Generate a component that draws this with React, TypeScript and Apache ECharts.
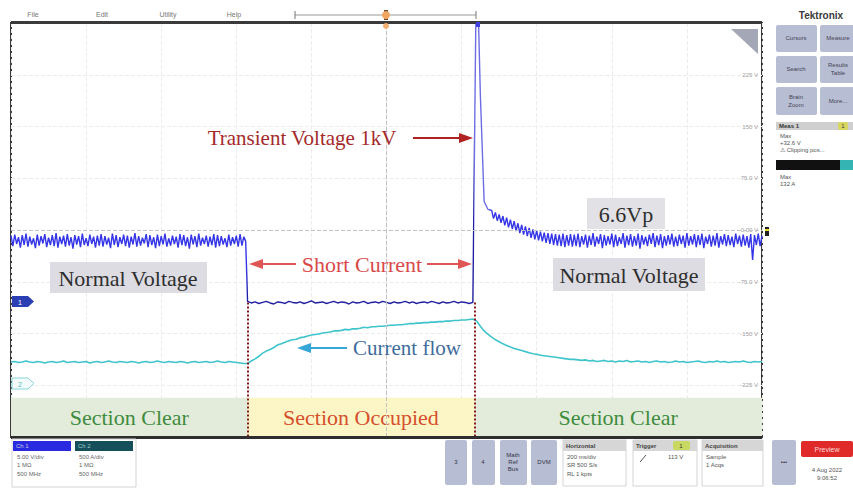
import React, { useEffect, useRef } from 'react';
import * as echarts from 'echarts';

// ---------- data (screen divisions) ----------
const SEGMENT_START_MS = [-1000, -370, 240, 280];
const VOLT_STEP_MS = [5, 10, 10, 5];
const CUR_STEP_MS = [10, 10, 10, 10];

const VOLT_NORMAL_BEFORE = [
  -0.11, -0.31, -0.09, -0.27, -0.14, -0.34, -0.10, -0.29, -0.07, -0.32,
  -0.13, -0.28, -0.16, -0.35, -0.09, -0.30, -0.12, -0.26, -0.08, -0.33,
  -0.15, -0.29, -0.10, -0.31, -0.06, -0.34, -0.13, -0.27, -0.11, -0.32,
  -0.08, -0.30, -0.14, -0.36, -0.10, -0.28, -0.12, -0.33, -0.07, -0.29,
  -0.16, -0.31, -0.09, -0.27, -0.13, -0.34, -0.11, -0.30, -0.08, -0.32,
  -0.12, -0.28, -0.15, -0.35, -0.07, -0.29, -0.10, -0.33, -0.14, -0.27,
  -0.09, -0.31, -0.11, -0.34, -0.13, -0.28, -0.06, -0.32, -0.12, -0.30,
  -0.15, -0.26, -0.08, -0.33, -0.10, -0.29, -0.14, -0.35, -0.09, -0.31,
  -0.12, -0.28, -0.07, -0.32, -0.16, -0.30, -0.11, -0.27, -0.13, -0.34,
  -0.08, -0.29, -0.10, -0.31, -0.14, -0.36, -0.09, -0.28, -0.12, -0.33,
  -0.07, -0.30, -0.15, -0.27, -0.11, -0.32, -0.13, -0.29, -0.08, -0.34,
  -0.10, -0.31, -0.12, -0.28, -0.16, -0.33, -0.09, -0.30, -0.14, -0.27,
  -0.11, -0.32, -0.08, -0.30, -0.13, -0.22,
];
const VOLT_SHORT = [
  -1.38, -1.41, -1.39, -1.42, -1.40, -1.38, -1.41, -1.43, -1.39, -1.40,
  -1.42, -1.38, -1.40, -1.41, -1.39, -1.42, -1.40, -1.37, -1.41, -1.40,
  -1.39, -1.42, -1.40, -1.38, -1.41, -1.39, -1.40, -1.43, -1.39, -1.41,
  -1.40, -1.38, -1.42, -1.40, -1.39, -1.41, -1.38, -1.40, -1.42, -1.39,
  -1.41, -1.40, -1.38, -1.41, -1.39, -1.42, -1.40, -1.39, -1.41, -1.38,
  -1.40, -1.42, -1.39, -1.41, -1.40, -1.38, -1.41, -1.39, -1.40, -1.42,
  -1.40,
];
const VOLT_TRANSIENT = [5.5, 2.6, 0.55, 0.4];
const VOLT_NORMAL_AFTER = [
  0.38, 0.22, 0.34, 0.18, 0.30, 0.14, 0.27, 0.09, 0.24, 0.05,
  0.20, 0.02, 0.17, -0.02, 0.13, -0.06, 0.10, -0.09, 0.07, -0.12,
  0.04, -0.15, 0.01, -0.18, -0.01, -0.20, -0.03, -0.22, -0.05, -0.25,
  -0.06, -0.27, -0.07, -0.29, -0.08, -0.30, -0.09, -0.31, -0.07, -0.33,
  -0.10, -0.30, -0.08, -0.32, -0.09,
  -0.31, -0.07, -0.33, -0.12, -0.28, -0.09, -0.34, -0.11, -0.29, -0.06,
  -0.32, -0.13, -0.27, -0.08, -0.35, -0.10, -0.30, -0.12, -0.28, -0.07,
  -0.33, -0.09, -0.31, -0.14, -0.27, -0.06, -0.34, -0.11, -0.29, -0.08,
  -0.32, -0.12, -0.30, -0.07, -0.36, -0.10, -0.28, -0.13, -0.31, -0.09,
  -0.27, -0.06, -0.33, -0.11, -0.29, -0.08, -0.35, -0.12, -0.30, -0.10,
  -0.28, -0.07, -0.32, -0.13, -0.31, -0.09, -0.27, -0.11, -0.34, -0.06,
  -0.30, -0.12, -0.28, -0.08, -0.33, -0.10, -0.29, -0.07, -0.35, -0.13,
  -0.27, -0.09, -0.32, -0.11, -0.30, -0.06, -0.34, -0.12, -0.28, -0.08,
  -0.31, -0.10, -0.29, -0.13, -0.33, -0.07, -0.27, -0.11, -0.32, -0.09,
  -0.30, -0.12, -0.34, -0.08, -0.58, -0.10, -0.29, -0.07, -0.31, -0.11,
];

const CUR_NORMAL_BEFORE = [
  -2.55, -2.54, -2.56, -2.55, -2.53, -2.55, -2.56, -2.54, -2.55, -2.57,
  -2.55, -2.54, -2.56, -2.55, -2.53, -2.56, -2.55, -2.54, -2.56, -2.55,
  -2.54, -2.57, -2.55, -2.54, -2.56, -2.55, -2.53, -2.55, -2.56, -2.54,
  -2.55, -2.56, -2.54, -2.55, -2.57, -2.55, -2.54, -2.56, -2.55, -2.53,
  -2.55, -2.56, -2.54, -2.55, -2.56, -2.54, -2.55, -2.57, -2.55, -2.54,
  -2.56, -2.55, -2.54, -2.56, -2.55, -2.53, -2.55, -2.56, -2.54, -2.55,
  -2.56, -2.57, -2.58,
];
const CUR_SHORT = [
  -2.58, -2.53, -2.49, -2.44, -2.38, -2.34, -2.31, -2.27, -2.22, -2.20,
  -2.17, -2.14, -2.12, -2.11, -2.08, -2.07, -2.05, -2.03, -2.02, -2.01,
  -1.99, -1.98, -1.97, -1.95, -1.95, -1.94, -1.92, -1.93, -1.91, -1.91,
  -1.90, -1.88, -1.89, -1.87, -1.87, -1.86, -1.86, -1.85, -1.84, -1.84,
  -1.83, -1.83, -1.82, -1.81, -1.81, -1.80, -1.80, -1.79, -1.79, -1.78,
  -1.78, -1.77, -1.77, -1.76, -1.76, -1.75, -1.75, -1.74, -1.74, -1.73,
  -1.72,
];
const CUR_TRANSIENT = [-1.76, -1.86, -1.95, -2.01];
const CUR_NORMAL_AFTER = [
  -2.07, -2.12, -2.16, -2.20, -2.23, -2.26, -2.29, -2.31, -2.33, -2.35,
  -2.37, -2.39, -2.40, -2.42, -2.43, -2.44, -2.45, -2.46, -2.47, -2.48,
  -2.49, -2.50, -2.50,
  -2.51, -2.52, -2.51, -2.53, -2.52, -2.54, -2.53, -2.52, -2.54, -2.53,
  -2.55, -2.53, -2.54, -2.52, -2.55, -2.54, -2.53, -2.55, -2.54, -2.56,
  -2.54, -2.53, -2.55, -2.54, -2.56, -2.55, -2.53, -2.55, -2.54, -2.56,
  -2.55, -2.54, -2.53, -2.55, -2.56, -2.54, -2.55, -2.53, -2.55, -2.54,
  -2.56, -2.55, -2.54, -2.55, -2.53, -2.55, -2.56, -2.54, -2.55, -2.54,
];

const Y_TICKS = [3, 2, 1, 0, -1, -2, -3];
const Y_TICK_LABELS = ['225 V', '150 V', '75.0 V', '0.00 V', '-75.0 V', '-150 V', '-225 V'];

const SECTION_EDGES_MS = [-1000, -370, 234, 1000];
const SECTION_LABELS = ['Section Clear', 'Section Occupied', 'Section Clear'];
const SECTION_BAND_DIV = [-4, -3.24];
const CH1_LEVEL_DIV = -1.4;

// ---------- helpers ----------
function toPairs(segments: number[][], steps: number[]) {
  const out: [number, number][] = [];
  segments.forEach((seg, s) =>
    seg.forEach((v, i) => out.push([SEGMENT_START_MS[s] + i * steps[s], v]))
  );
  return out;
}

const SERIF = '"Liberation Serif", "Times New Roman", serif';
const SANS = '"Liberation Sans", Arial, sans-serif';

function txt(x: number, y: number, text: string, font: string, fill: string, align = 'left', extra: any = {}) {
  return {
    type: 'text', x, y, silent: true, z: 20,
    style: { text, font, fill, textAlign: align, align, textVerticalAlign: 'middle', verticalAlign: 'middle', ...extra },
  };
}
function rect(x: number, y: number, w: number, h: number, fill: string, extra: any = {}, r = 0) {
  return { type: 'rect', silent: true, z: 15, shape: { x, y, width: w, height: h, r }, style: { fill, ...extra } };
}
function line(x1: number, y1: number, x2: number, y2: number, stroke: string, lineWidth = 1, extra: any = {}) {
  return { type: 'line', silent: true, z: 18, shape: { x1, y1, x2, y2 }, style: { stroke, lineWidth, ...extra } };
}
function poly(points: number[][], fill: string, extra: any = {}) {
  return { type: 'polygon', silent: true, z: 19, shape: { points }, style: { fill, ...extra } };
}

const UI = '6px ' + SANS;
const UI7 = '7px ' + SANS;
const btnFill = '#b7bdd3';

const graphics: any[] = [
  // menu bar
  txt(33, 14, 'File', UI7, '#777', 'center'),
  txt(102, 14, 'Edit', UI7, '#777', 'center'),
  txt(168, 14, 'Utility', UI7, '#777', 'center'),
  txt(234, 14, 'Help', UI7, '#777', 'center'),
  line(295, 15, 476, 15, '#999', 1),
  line(295, 11, 295, 19, '#777', 1),
  line(476, 11, 476, 19, '#777', 1),
  { type: 'circle', silent: true, z: 19, shape: { cx: 386, cy: 15, r: 4 }, style: { fill: '#f0a860' } },
  rect(384, 10, 4, 10, '#6a4a30', {}),
  // plot frame accents
  rect(11, 21, 751, 3, '#3a3a3a'),
  rect(11, 436, 751, 3, '#2e2e2e'),
  poly([[731, 29], [758, 29], [758, 54]], '#a4a8b6'),
  { type: 'circle', silent: true, z: 19, shape: { cx: 386, cy: 26, r: 3 }, style: { fill: '#f2b070' } },
  rect(476, 22, 4, 5, '#4040e0'),
  rect(765, 227, 4, 9, '#222'),
  rect(765, 229, 4, 2, '#e8d830'),
  // channel tags
  poly([[12, 296], [28, 296], [34, 301.5], [28, 307], [12, 307]], '#2b3fb5'),
  txt(20, 302, '1', UI7, '#fff', 'center'),
  poly([[12, 378], [28, 378], [34, 383.5], [28, 389], [12, 389]], '#f3fbfc', { stroke: '#86d3da', lineWidth: 1 }),
  txt(20, 384, '2', UI7, '#5bb', 'center'),

  // annotations
  txt(302, 138, 'Transient Voltage 1kV', '21px ' + SERIF, '#a42a2a', 'center'),
  line(413, 138, 462, 138, '#b02222', 2),
  poly([[473, 138], [459, 133], [459, 143]], '#b02222'),

  txt(362, 264, 'Short Current', '22px ' + SERIF, '#d84a4a', 'center'),
  line(260, 264, 296, 264, '#e05656', 2),
  poly([[249, 264], [263, 259], [263, 269]], '#e05656'),
  line(427, 264, 462, 264, '#e05656', 2),
  poly([[472, 264], [458, 259], [458, 269]], '#e05656'),

  rect(50, 262, 157, 31, '#dcdce2'),
  txt(128, 278, 'Normal Voltage', '22px ' + SERIF, '#2e2e2e', 'center'),
  rect(553, 258, 152, 33, '#dcdce2'),
  txt(629, 275, 'Normal Voltage', '22px ' + SERIF, '#2e2e2e', 'center'),
  rect(587, 198, 78, 31, '#e2e2e6'),
  txt(626, 214, '6.6Vp', '22px ' + SERIF, '#2e2e2e', 'center'),

  txt(407, 348, 'Current flow', '21px ' + SERIF, '#3e6c9c', 'center'),
  line(308, 348, 347, 348, '#36a6d6', 2),
  poly([[297, 348], [311, 343], [311, 353]], '#36a6d6'),

  // right panel
  txt(821, 15, 'Tektronix', 'bold 10px ' + SANS, '#3a3a3a', 'center'),
  rect(776, 25, 41, 27, btnFill, {}, 2), txt(796, 38, 'Cursors', UI, '#445', 'center'),
  rect(820, 25, 40, 27, btnFill, {}, 2), txt(838, 38, 'Measure', UI, '#445', 'center'),
  rect(776, 56, 41, 27, btnFill, {}, 2), txt(796, 69, 'Search', UI, '#445', 'center'),
  rect(820, 56, 40, 27, btnFill, {}, 2), txt(838, 65, 'Results', UI, '#445', 'center'), txt(838, 73, 'Table', UI, '#445', 'center'),
  rect(776, 87, 41, 28, btnFill, {}, 2), txt(796, 97, 'Brain', UI, '#445', 'center'), txt(796, 105, 'Zoom', UI, '#445', 'center'),
  rect(820, 87, 40, 28, btnFill, {}, 2), txt(838, 101, 'More...', UI, '#445', 'center'),
  rect(776, 122, 77, 8, '#cfcfcf'),
  txt(779, 126, 'Meas 1', 'bold 6px ' + SANS, '#333'),
  rect(838, 122, 10, 8, '#d8d860', {}, 2), txt(843, 126, '1', UI, '#333', 'center'),
  txt(780, 136, 'Max', UI, '#555'),
  txt(780, 143, '+32.6 V', UI, '#555'),
  txt(780, 150, '\u26A0 Clipping pos...', UI, '#555'),
  rect(776, 160, 64, 10, '#111'),
  rect(840, 160, 13, 10, '#35b4b4'),
  txt(780, 177, 'Max', UI, '#555'),
  txt(780, 184, '132 A', UI, '#555'),

  // bottom panel: channels
  rect(12, 439, 124, 48, '#ffffff', { stroke: '#d4d4d4', lineWidth: 1 }),
  rect(13, 441, 58, 10, '#2a2ae0'), txt(16, 446, 'Ch 1', UI, '#ccd', 'left'),
  rect(75, 441, 58, 10, '#15505a'), txt(78, 446, 'Ch 2', UI, '#9cc', 'left'),
  txt(17, 457, '5.00 V/div', UI, '#666'), txt(17, 465, '1 M\u03A9', UI, '#666'), txt(17, 474, '500 MHz', UI, '#666'),
  txt(79, 457, '500 A/div', UI, '#666'), txt(79, 465, '1 M\u03A9', UI, '#666'), txt(79, 474, '500 MHz', UI, '#666'),

  // bottom panel: right
  rect(445, 440, 22, 45, btnFill, {}, 2), txt(456, 462, '3', UI, '#334', 'center'),
  rect(472, 440, 23, 45, btnFill, {}, 2), txt(483, 462, '4', UI, '#334', 'center'),
  rect(500, 440, 27, 45, btnFill, {}, 2),
  txt(513, 455, 'Math', UI, '#334', 'center'), txt(513, 462, 'Ref', UI, '#334', 'center'), txt(513, 469, 'Bus', UI, '#334', 'center'),
  rect(531, 440, 26, 45, btnFill, {}, 2), txt(544, 462, 'DVM', UI, '#334', 'center'),
  rect(563, 440, 63, 46, '#ffffff', { stroke: '#d4d4d4', lineWidth: 1 }),
  rect(563, 440, 63, 11, '#d6d6d6'), txt(566, 446, 'Horizontal', 'bold 6px ' + SANS, '#444'),
  txt(567, 457, '200 ms/div', UI, '#555'), txt(567, 465, 'SR 500 S/s', UI, '#555'), txt(567, 474, 'RL 1 kpts', UI, '#555'),
  rect(633, 440, 64, 46, '#ffffff', { stroke: '#d4d4d4', lineWidth: 1 }),
  rect(633, 440, 64, 11, '#d6d6d6'), txt(636, 446, 'Trigger', 'bold 6px ' + SANS, '#444'),
  rect(673, 441, 17, 9, '#c8d860', {}, 2), txt(681, 446, '1', UI, '#333', 'center'),
  line(640, 462, 646, 455, '#555', 1),
  txt(668, 457, '113 V', UI, '#555'),
  rect(702, 440, 61, 46, '#ffffff', { stroke: '#d4d4d4', lineWidth: 1 }),
  rect(702, 440, 61, 11, '#d6d6d6'), txt(705, 446, 'Acquisition', 'bold 6px ' + SANS, '#444'),
  txt(706, 457, 'Sample', UI, '#555'), txt(706, 465, '1 Acqs', UI, '#555'),
  rect(772, 440, 24, 45, btnFill, {}, 2), txt(784, 462, '\u2022\u2022\u2022', UI, '#334', 'center'),
  rect(801, 441, 52, 16, '#e02a2a', {}, 2), txt(827, 449, 'Preview', UI7, '#fbdada', 'center'),
  txt(827, 470, '4 Aug 2022', UI, '#555', 'center'),
  txt(827, 478, '9:06:52', UI, '#555', 'center'),
];

const option: any = {
  animation: false,
  backgroundColor: '#ffffff',
  grid: {
    left: 11, top: 23, width: 751, height: 414, show: true,
    borderColor: '#3a3a3a', borderWidth: 2, backgroundColor: '#ffffff', containLabel: false,
  },
  visualMap: {
    type: 'piecewise', show: false, dimension: 0, seriesIndex: 1,
    pieces: [
      { lt: -372, color: '#3535e8' },
      { gte: -372, lt: 232, color: '#1f1fa0' },
      { gte: 232, lt: 272, color: '#6c6ce4' },
      { gte: 272, color: '#3535e8' },
    ],
  },
  xAxis: {
    type: 'value', min: -1000, max: 1000, interval: 200,
    axisLine: { show: false }, axisTick: { show: false }, axisLabel: { show: false },
    splitLine: { show: true, lineStyle: { color: '#ececec', type: 'dashed', width: 1 } },
  },
  yAxis: {
    type: 'value', min: -4, max: 4, interval: 1, position: 'right',
    axisLine: { show: false }, axisTick: { show: false },
    axisLabel: {
      inside: true, margin: 4, fontSize: 6, color: '#a0a0a0', fontFamily: SANS,
      formatter: (v: number) => {
        const i = Y_TICKS.indexOf(v);
        return i >= 0 ? Y_TICK_LABELS[i] : '';
      },
    },
    splitLine: { show: true, lineStyle: { color: '#ececec', type: 'dashed', width: 1 } },
  },
  series: [
    {
      name: 'CH2 current', type: 'line', showSymbol: false, symbol: 'none', clip: true, z: 3,
      data: toPairs([CUR_NORMAL_BEFORE, CUR_SHORT, CUR_TRANSIENT, CUR_NORMAL_AFTER], CUR_STEP_MS),
      lineStyle: { color: '#3fc4cc', width: 1.6 },
      markLine: {
        silent: true, symbol: ['none', 'none'], label: { show: false },
        lineStyle: { color: '#c2c2c2', type: 'dashed', width: 1 },
        data: [{ xAxis: 0 }, { yAxis: 0 }],
      },
      markArea: {
        silent: true,
        data: SECTION_LABELS.map((name, i) => [
          {
            name,
            xAxis: SECTION_EDGES_MS[i], yAxis: SECTION_BAND_DIV[1],
            itemStyle: { color: i === 1 ? '#fcf6c6' : '#e3ebda' },
            label: {
              show: true, position: 'inside', fontFamily: SERIF, fontSize: 22,
              color: i === 1 ? '#d5502c' : '#3e8c3e',
            },
          },
          { xAxis: SECTION_EDGES_MS[i + 1], yAxis: SECTION_BAND_DIV[0] },
        ]),
      },
    },
    {
      name: 'CH1 voltage', type: 'line', showSymbol: false, symbol: 'none', clip: true, z: 4,
      data: toPairs([VOLT_NORMAL_BEFORE, VOLT_SHORT, VOLT_TRANSIENT, VOLT_NORMAL_AFTER], VOLT_STEP_MS),
      lineStyle: { width: 1.4 },
      markLine: {
        silent: true, symbol: ['none', 'none'], label: { show: false },
        lineStyle: { color: '#8b1a1a', type: 'dotted', width: 2 },
        data: [SECTION_EDGES_MS[1], SECTION_EDGES_MS[2]].map((t) => [
          { coord: [t, CH1_LEVEL_DIV] },
          { coord: [t, SECTION_BAND_DIV[0]] },
        ]),
      },
    },
  ],
  graphic: { elements: graphics },
};

export default function App() {
  const ref = useRef<HTMLDivElement>(null);
  useEffect(() => {
    if (!ref.current) return;
    const chart = echarts.init(ref.current, undefined, { renderer: 'svg' });
    chart.setOption(option);
    return () => chart.dispose();
  }, []);
  return (
    <div
      ref={ref}
      style={{ position: 'fixed', left: 0, top: 0, width: 853, height: 488, background: '#ffffff' }}
    />
  );
}
